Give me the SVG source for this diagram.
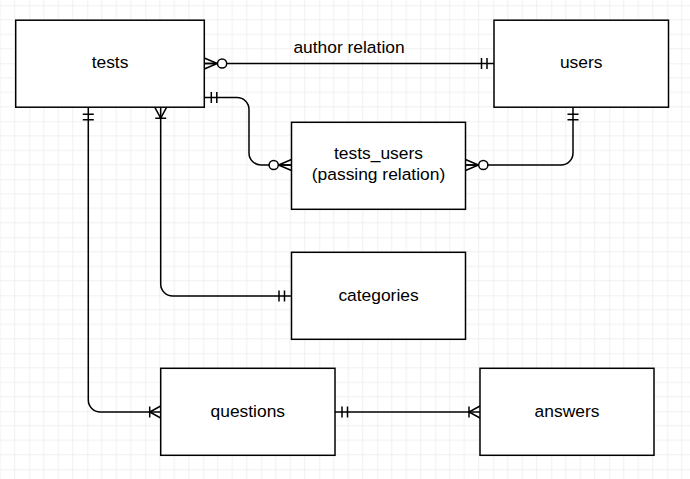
<svg xmlns="http://www.w3.org/2000/svg" width="690" height="479" viewBox="0 0 690 479">
  <style>
    .box { fill: #ffffff; stroke: #000000; stroke-width: 1.5; }
    .lbl { font-family: "Liberation Sans", Arial, sans-serif; font-size: 17.4px; fill: #000000; text-anchor: middle; }
    .edge { fill: none; stroke: #000000; stroke-width: 1.5; }
    .mk { fill: none; stroke: #000000; stroke-width: 1.5; }
  </style>
  <defs>
    <pattern id="grid" patternUnits="userSpaceOnUse" x="29.3" y="5.3" width="58" height="58">
      <path d="M14.5,0 V58 M29,0 V58 M43.5,0 V58 M0,14.5 H58 M0,29 H58 M0,43.5 H58" stroke="#f0f0f0" stroke-width="1" fill="none"/>
      <path d="M0,0 V58 M0,0 H58" stroke="#e3e3e3" stroke-width="1" fill="none"/>
    </pattern>
    <marker id="mandOne" markerUnits="userSpaceOnUse" viewBox="-20 -10 22 20" refX="0" refY="0" markerWidth="22" markerHeight="20" orient="auto-start-reverse" overflow="visible">
      <path class="mk" d="M-7,-5.5 V5.5 M-12.5,-5.5 V5.5"/>
    </marker>
    <marker id="zeroMany" markerUnits="userSpaceOnUse" viewBox="-26 -10 28 20" refX="0" refY="0" markerWidth="28" markerHeight="20" orient="auto-start-reverse" overflow="visible">
      <path class="mk" d="M0,-5.5 L-13,0 L0,5.5 M-13,0 H0"/>
      <circle cx="-17.8" cy="0" r="4.6" fill="#ffffff" stroke="#000000" stroke-width="1.5"/>
    </marker>
    <marker id="oneMany" markerUnits="userSpaceOnUse" viewBox="-20 -10 22 20" refX="0" refY="0" markerWidth="22" markerHeight="20" orient="auto-start-reverse" overflow="visible">
      <path class="mk" d="M0,-6 L-11,0 L0,6 M-11,-5.5 V5.5"/>
    </marker>
  </defs>

  <rect x="0" y="0" width="690" height="479" fill="#ffffff"/>
  <rect x="0" y="0" width="690" height="479" fill="url(#grid)"/>

  <g id="connectors">
    <path id="e-author" class="edge" d="M204.3,63.5 H494" marker-start="url(#zeroMany)" marker-end="url(#mandOne)"/>
    <text class="lbl" x="349" y="52.8">author relation</text>
    <path id="e-tests-tu" class="edge" d="M204.3,97.5 H237 A12,12 0 0 1 249,109.5 V153 A12,12 0 0 0 261,165 H291.5" marker-start="url(#mandOne)" marker-end="url(#zeroMany)"/>
    <path id="e-users-tu" class="edge" d="M573,107.2 V153 A12,12 0 0 1 561,165 H465.5" marker-start="url(#mandOne)" marker-end="url(#zeroMany)"/>
    <path id="e-tests-cat" class="edge" d="M160.7,107.2 V284 A12,12 0 0 0 172.7,296 H291.5" marker-start="url(#oneMany)" marker-end="url(#mandOne)"/>
    <path id="e-tests-q" class="edge" d="M88.3,107.2 V400 A12,12 0 0 0 100.3,412 H160.7" marker-start="url(#mandOne)" marker-end="url(#oneMany)"/>
    <path id="e-q-a" class="edge" d="M335,412 H480" marker-start="url(#mandOne)" marker-end="url(#oneMany)"/>
  </g>

  <g id="tests">
    <rect class="box" x="15.7" y="20.2" width="188.6" height="87"/>
    <text class="lbl" x="110" y="68">tests</text>
  </g>
  <g id="users">
    <rect class="box" x="494" y="20.2" width="174.5" height="87"/>
    <text class="lbl" x="581.2" y="68">users</text>
  </g>
  <g id="tests_users">
    <rect class="box" x="291.5" y="122.3" width="174" height="87"/>
    <text class="lbl" x="378.5" y="158.8">tests_users</text>
    <text class="lbl" x="378.5" y="179.8">(passing relation)</text>
  </g>
  <g id="categories">
    <rect class="box" x="291.5" y="252.3" width="174" height="87"/>
    <text class="lbl" x="378.5" y="300.5">categories</text>
  </g>
  <g id="questions">
    <rect class="box" x="160.7" y="368.3" width="174.3" height="87"/>
    <text class="lbl" x="247.8" y="416.5">questions</text>
  </g>
  <g id="answers">
    <rect class="box" x="480" y="368.3" width="174" height="87"/>
    <text class="lbl" x="567" y="416.5">answers</text>
  </g>
</svg>
